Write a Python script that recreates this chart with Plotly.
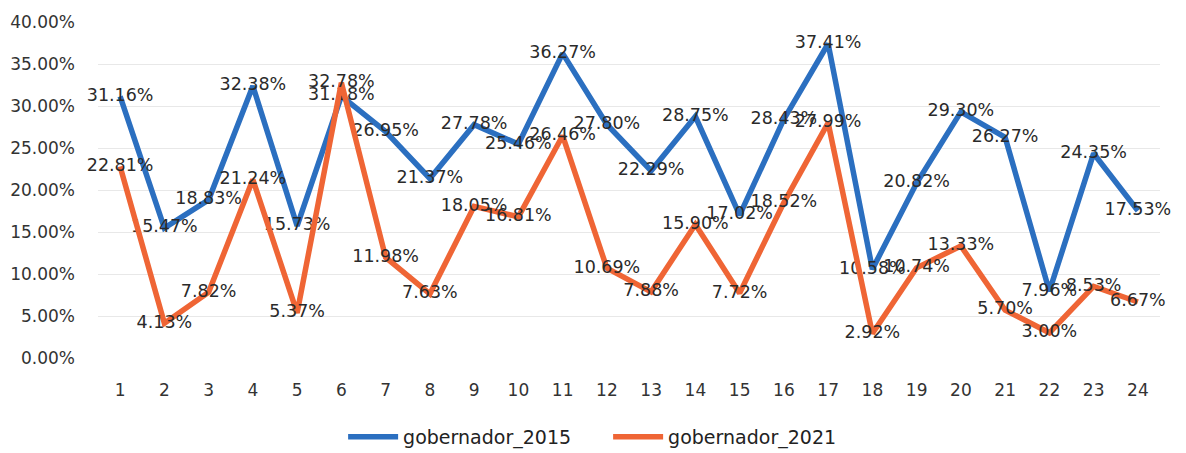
import plotly.graph_objects as go

categories = list(range(1, 25))
gob_2015 = [31.16, 15.47, 18.83, 32.38, 15.73, 31.18, 26.95, 21.37, 27.78, 25.46, 36.27, 27.80,
            22.29, 28.75, 17.02, 28.43, 37.41, 10.58, 20.82, 29.30, 26.27, 7.96, 24.35, 17.53]
gob_2021 = [22.81, 4.13, 7.82, 21.24, 5.37, 32.78, 11.98, 7.63, 18.05, 16.81, 26.46, 10.69,
            7.88, 15.90, 7.72, 18.52, 27.99, 2.92, 10.74, 13.33, 5.70, 3.00, 8.53, 6.67]
y_ticks = [0, 5, 10, 15, 20, 25, 30, 35, 40]

FONT = "DejaVu Sans"

fig = go.Figure()
for name, vals, color in [("gobernador_2015", gob_2015, "#2b6fc0"),
                          ("gobernador_2021", gob_2021, "#ef6535")]:
    fig.add_trace(go.Scatter(
        x=categories, y=[v / 100 for v in vals], name=name, mode="lines+text",
        line=dict(color=color, width=5.5),
        text=[f"{v:.2f}%" for v in vals], textposition="middle center",
        textfont=dict(family=FONT, size=17.5, color="#2a2a2a"),
        cliponaxis=False,
    ))

fig.update_layout(
    width=1186, height=453,
    margin=dict(l=90, r=34, t=14, b=103),
    paper_bgcolor="white", plot_bgcolor="white",
    font=dict(family=FONT, size=17, color="#333333"),
    showlegend=True,
    legend=dict(orientation="h", x=0.506, xref="container", xanchor="center",
                y=0.053, yref="container", yanchor="middle",
                font=dict(family=FONT, size=19, color="#222222"), itemwidth=50,
                entrywidth=200, entrywidthmode="pixels"),
    xaxis=dict(range=[0.5, 24.5], tickmode="array", tickvals=categories,
               ticktext=[str(c) for c in categories], showgrid=False, zeroline=False,
               showline=False, ticks="", ticklabelstandoff=20, automargin=False),
    yaxis=dict(range=[0, 0.40], tickmode="array", tickvals=[t / 100 for t in y_ticks],
               ticktext=[f"{t:.2f}%" for t in y_ticks], showgrid=True, gridcolor="#e8e8e8",
               zeroline=False, showline=False, ticks="", ticklabelstandoff=22, automargin=False),
)

fig.write_html("out.html")
